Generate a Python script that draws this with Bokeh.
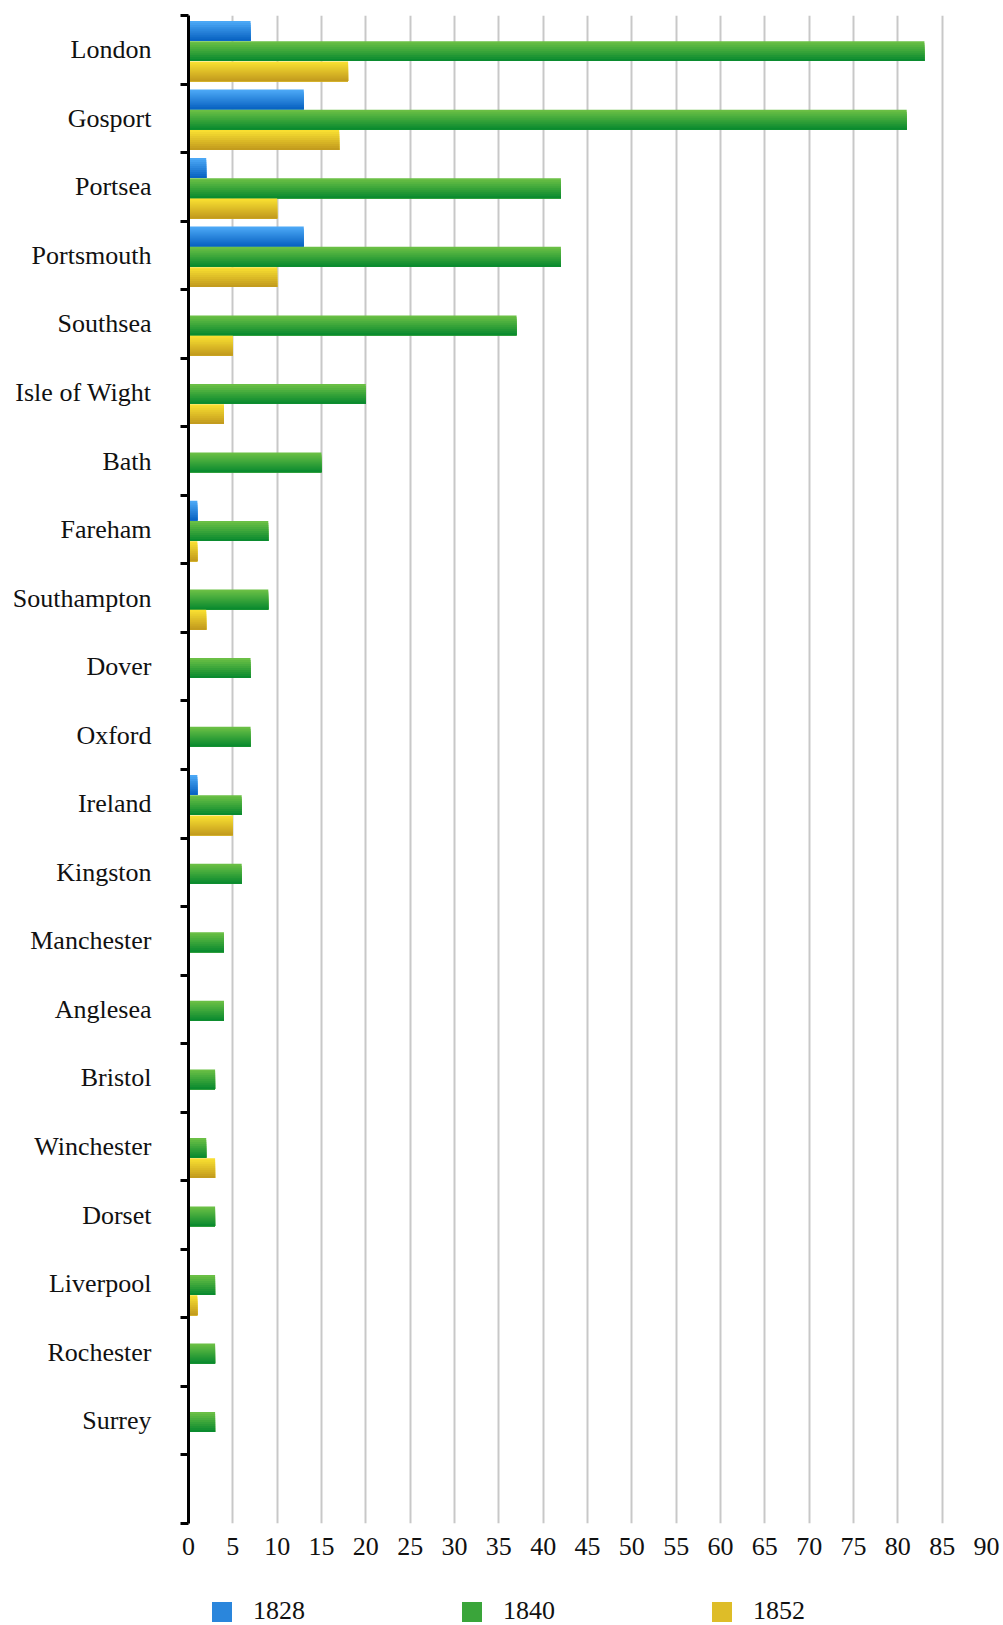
from bokeh.plotting import figure
from bokeh.layouts import column
from bokeh.models import Range1d, FixedTicker, Legend, LegendItem, ColumnDataSource
from bokeh.embed import file_html
from bokeh.resources import INLINE

categories = ["London", "Gosport", "Portsea", "Portsmouth", "Southsea", "Isle of Wight",
              "Bath", "Fareham", "Southampton", "Dover", "Oxford", "Ireland", "Kingston",
              "Manchester", "Anglesea", "Bristol", "Winchester", "Dorset", "Liverpool",
              "Rochester", "Surrey"]
series_names = ["1828", "1840", "1852"]
v1828 = [7, 13, 2, 13, 0, 0, 0, 1, 0, 0, 0, 1, 0, 0, 0, 0, 0, 0, 0, 0, 0]
v1840 = [83, 81, 42, 42, 37, 20, 15, 9, 9, 7, 7, 6, 6, 4, 4, 3, 2, 3, 3, 3, 3]
v1852 = [18, 17, 10, 10, 5, 4, 0, 1, 2, 0, 0, 5, 0, 0, 0, 0, 3, 0, 1, 0, 0]
x_ticks = list(range(0, 95, 5))

n_slots = len(categories) + 1
gradients = [("#4fabf8", "#0660c0"), ("#6fc246", "#06882e"), ("#fbe232", "#c0981d")]
bar_h = 0.29
bar_step = 0.296
n_slices = 10
FONT = "Liberation Serif"


def hex2rgb(h):
    h = h.lstrip("#")
    return [int(h[i:i + 2], 16) for i in (0, 2, 4)]


def mix(c1, c2, t):
    a, b = hex2rgb(c1), hex2rgb(c2)
    return "#%02x%02x%02x" % tuple(round(a[i] + (b[i] - a[i]) * t) for i in range(3))


p = figure(width=1003, height=1590, output_backend="svg", toolbar_location=None,
           x_range=Range1d(0, 90), y_range=Range1d(n_slots, 0),
           min_border_left=188, min_border_right=17, min_border_top=15,
           min_border_bottom=67)
p.outline_line_color = None
p.background_fill_color = "white"

for s, (name, vals, (ctop, cbot)) in enumerate(zip(series_names, [v1828, v1840, v1852], gradients)):
    centers = [i + 0.52 + (s - 1) * bar_step for i in range(len(categories))]
    bottoms = [c + bar_h / 2 for c in centers]
    for k in range(n_slices):
        tops = [c - bar_h / 2 + k * bar_h / n_slices for c in centers]
        src = ColumnDataSource(dict(top=tops, bottom=bottoms, right=vals, left=[0] * len(vals)))
        col = mix(ctop, cbot, (k + 0.5) / n_slices)
        p.quad(left="left", right="right", top="top", bottom="bottom", source=src,
               fill_color=col, line_color=None)

# y axis
yax = p.yaxis[0]
yax.ticker = FixedTicker(ticks=[i + 0.5 for i in range(len(categories))],
                         minor_ticks=list(range(n_slots + 1)))
yax.major_label_overrides = {i + 0.5: c for i, c in enumerate(categories)}
yax.major_tick_out = 0
yax.major_tick_in = 0
yax.minor_tick_out = 8
yax.minor_tick_in = 0
yax.minor_tick_line_width = 3
yax.minor_tick_line_color = "black"
yax.axis_line_width = 3
yax.axis_line_color = "black"
yax.major_label_standoff = 29
yax.major_label_text_font = FONT
yax.major_label_text_font_size = "26px"
yax.major_label_text_color = "#111111"

# x axis
xax = p.xaxis[0]
xax.ticker = FixedTicker(ticks=x_ticks, minor_ticks=[])
xax.axis_line_color = None
xax.major_tick_line_color = None
xax.minor_tick_line_color = None
xax.major_label_standoff = 8
xax.major_label_text_font = FONT
xax.major_label_text_font_size = "26px"
xax.major_label_text_color = "#111111"

p.ygrid.grid_line_color = None
p.xgrid.ticker = FixedTicker(ticks=x_ticks)
p.xgrid.grid_line_color = "#c8c8c8"
p.xgrid.grid_line_width = 2

# legend strip (frame is aligned with the chart's frame by the column layout)
pl = figure(width=1003, height=36, output_backend="svg", toolbar_location=None,
            x_range=Range1d(0, 1), y_range=Range1d(0, 1),
            x_axis_location=None, y_axis_location=None,
            min_border_left=188, min_border_right=17, min_border_top=0, min_border_bottom=0)
pl.outline_line_color = None
pl.xgrid.visible = False
pl.ygrid.visible = False

legend_items = []
for name, (ctop, cbot) in zip(series_names, gradients):
    r = pl.quad(left=[0], right=[0], top=[0], bottom=[0], fill_color=mix(ctop, cbot, 0.5),
                line_color=None)
    legend_items.append(LegendItem(label=name, renderers=[r]))

legend = Legend(items=legend_items, orientation="horizontal", location=(21, 0),
                glyph_width=25, glyph_height=25, label_standoff=19, label_width=100,
                spacing=106, padding=0, margin=0, border_line_color=None,
                background_fill_alpha=0,
                label_text_font=FONT, label_text_font_size="26px",
                label_text_color="#111111")
pl.add_layout(legend, "center")

layout = column(p, pl, spacing=0)
open("out.html", "w").write(file_html(layout, INLINE))
